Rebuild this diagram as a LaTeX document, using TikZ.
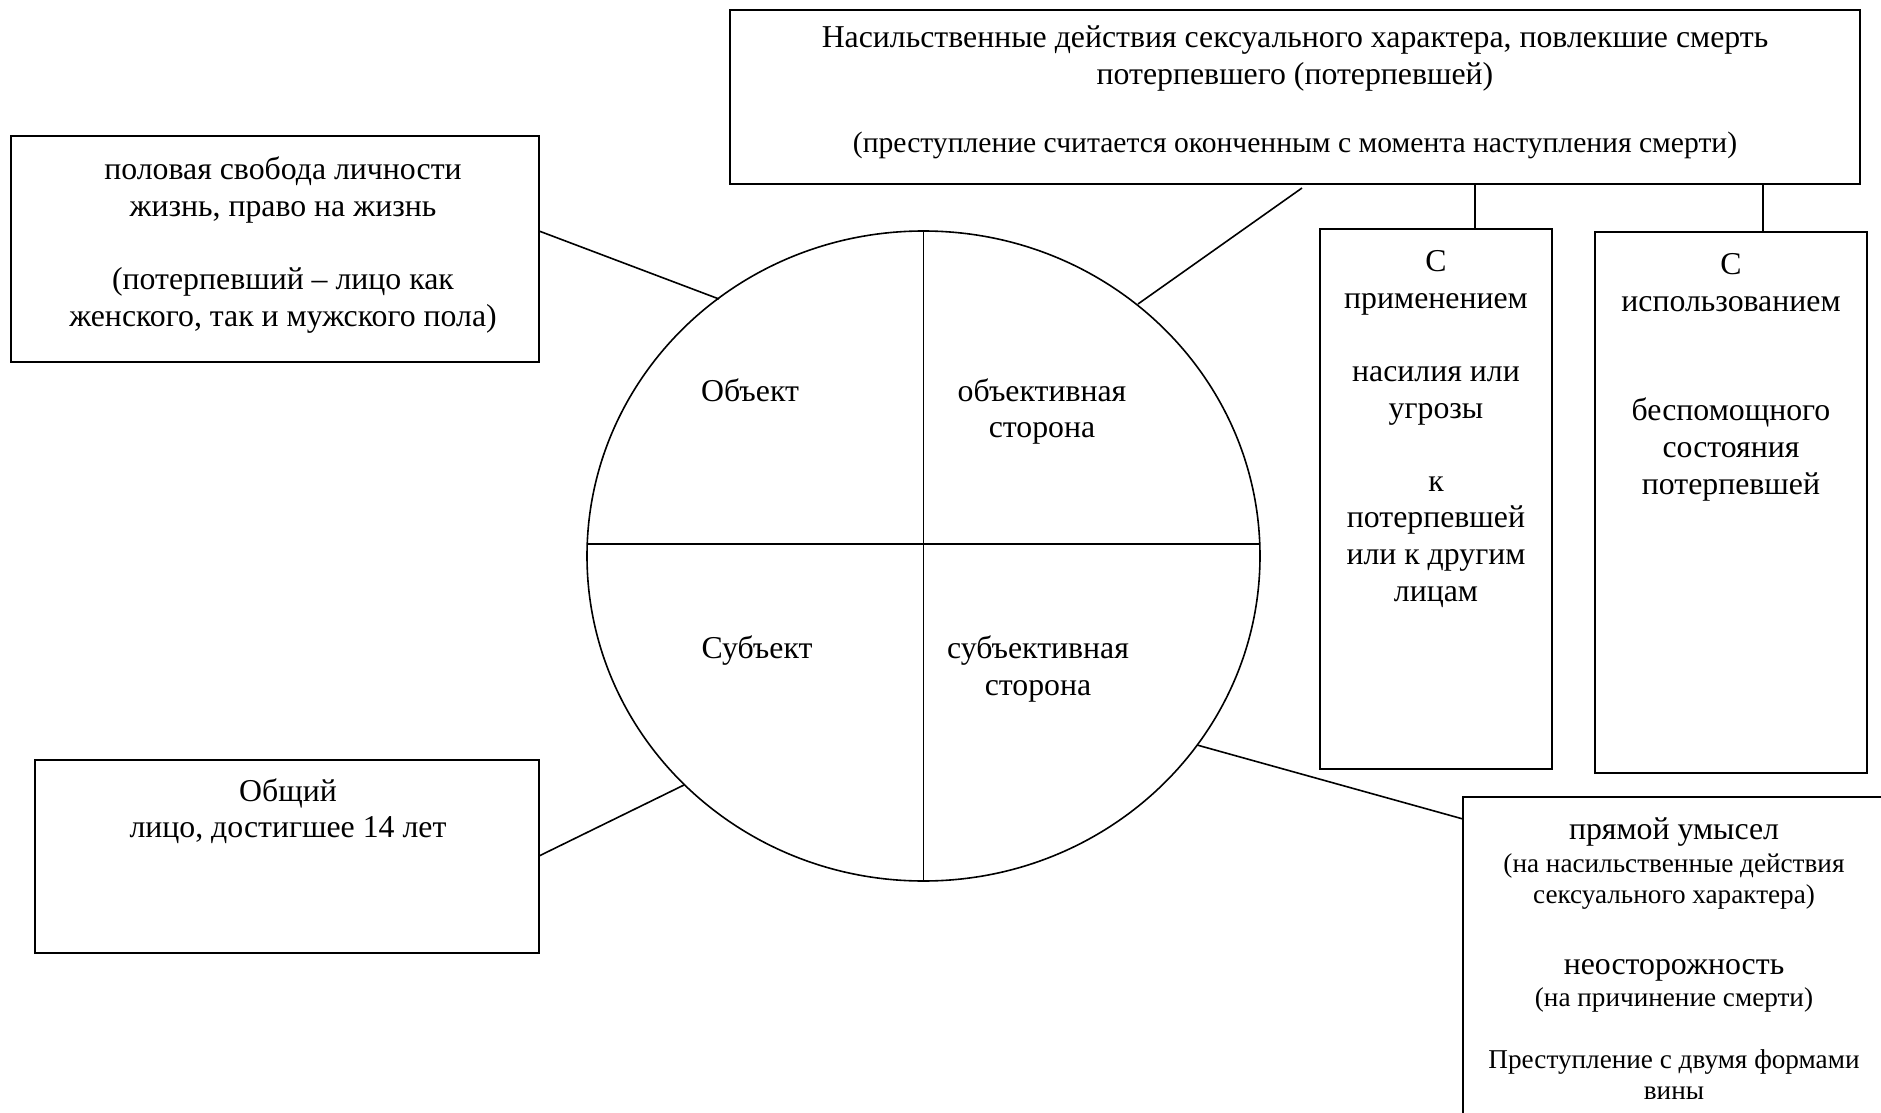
\documentclass[tikz,border=0pt]{standalone}
\usepackage{fontspec}
\setmainfont{Liberation Serif}
\usetikzlibrary{shapes.geometric}
\newcommand\msz{\fontsize{15.9pt}{18.3pt}\selectfont}
\newcommand\tsz{\fontsize{14.8pt}{18.3pt}\selectfont}
\newcommand\ssz{\fontsize{13.6pt}{15.5pt}\selectfont}
\begin{document}
\begin{tikzpicture}[x=0.5pt,y=-0.5pt,
  box/.style={draw,line width=1pt,rectangle,inner sep=0pt},
  txt/.style={align=center,inner sep=0pt,anchor=base,font=\msz},
  stxt/.style={align=center,inner sep=0pt,anchor=base,font=\ssz},
  conn/.style={line width=0.8pt}]
\useasboundingbox (0,0) rectangle (1881,1113);
\clip (0,0) rectangle (1881,1113);
\fill[white] (0,0) rectangle (1881,1113);

% boxes
\node[box,minimum width=565pt,minimum height=87pt] (top) at (1295,97) {};
\node[box,minimum width=264pt,minimum height=113pt] (obj) at (275,249) {};
\node[box,minimum width=116pt,minimum height=270pt] (b1) at (1436,499) {};
\node[box,minimum width=136pt,minimum height=270.5pt] (b2) at (1731,502.5) {};
\node[box,minimum width=252pt,minimum height=96.5pt] (subj) at (287,856.5) {};
\node[box,minimum width=213.5pt,minimum height=166.5pt] (guilt) at (1676.5,963.5) {};

% circle
\node[ellipse,draw,line width=0.8pt,inner sep=0pt,minimum width=336.5pt,minimum height=325pt] (ell) at (923.5,556) {};
\coordinate (hl) at (587.4,544);
\coordinate (hr) at (1259.6,544);
\draw[conn] (hl) -- (hr);
\draw[conn] (ell.north) -- (ell.south);

% texts (anchor = baseline of the last line)
\node[txt] (ttop) at (1295,84.6) {Насильственные действия сексуального характера, повлекшие смерть\\ потерпевшего (потерпевшей)};
\node[txt,font=\tsz] (ttop2) at (1295,153) {(преступление считается оконченным с момента наступления смерти)};
\node[txt] (tobj) at (283,326) {половая свобода личности\\ жизнь, право на жизнь\\[18.3pt] (потерпевший – лицо как\\ женского, так и мужского пола)};
\node[txt] (q1) at (750,401) {Объект};
\node[txt] (q2) at (1042,437.6) {объективная\\ сторона};
\node[txt] (q3) at (757,658) {Субъект};
\node[txt] (q4) at (1038,695) {субъективная\\ сторона};
\node[txt] (tb1) at (1436,601) {С\\ применением\\[18.3pt] насилия или\\ угрозы\\[18.3pt] к\\ потерпевшей\\ или к другим\\ лицам};
\node[txt] (tb2) at (1731,494) {С\\ использованием\\[36.6pt] беспомощного\\ состояния\\ потерпевшей};
\node[txt] (tsubj) at (288,837.6) {Общий\\ лицо, достигшее 14 лет};
\node[txt] (g1) at (1674,839) {прямой умысел};
\node[stxt] (g2) at (1674,903) {(на насильственные действия\\ сексуального характера)};
\node[txt] (g3) at (1674,974) {неосторожность};
\node[stxt] (g4) at (1674,1006) {(на причинение смерти)};
\node[stxt] (g5) at (1674,1099) {Преступление с двумя формами\\ вины};

% connectors
\coordinate (objE) at (539,231);
\coordinate (c1) at (719,299);
\coordinate (subjE) at (539,856);
\coordinate (c2) at (684,785);
\coordinate (topS) at (1302,188);
\coordinate (c3) at (1138,304);
\coordinate (c4) at (1197,745);
\coordinate (guiltW) at (1463,819);
\coordinate (b1t) at ([xshift=19.5pt]b1.north);
\coordinate (b2t) at ([xshift=16pt]b2.north);
\draw[conn] (objE) -- (c1);
\draw[conn] (subjE) -- (c2);
\draw[conn] (topS) -- (c3);
\draw[conn] (c4) -- (guiltW);
\draw[conn] (top.south -| b1t) -- (b1t);
\draw[conn] (top.south -| b2t) -- (b2t);
\end{tikzpicture}
\end{document}
